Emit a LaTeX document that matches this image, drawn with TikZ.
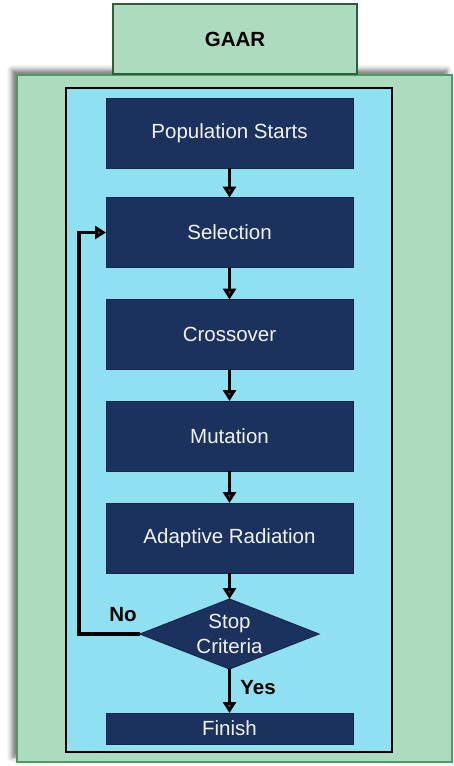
\documentclass[tikz,border=0pt]{standalone}
\usepackage{fontspec}
\setmainfont{Liberation Sans}
\usetikzlibrary{shapes.geometric,arrows.meta,shadows.blur}
\definecolor{gfill}{HTML}{ADDBBE}
\definecolor{gdark}{HTML}{2E5E3E}
\definecolor{gborder}{HTML}{4E9A63}
\definecolor{cyanfill}{HTML}{8FE0F0}
\definecolor{navy}{HTML}{1B325E}
\definecolor{navyb}{HTML}{142647}
\definecolor{txtw}{HTML}{F2F2F2}
\tikzset{
  stepbox/.style={draw=navyb, line width=1pt, fill=navy, text=txtw,
    minimum width=247pt, minimum height=70pt, inner sep=0pt, outer sep=0pt,
    font=\fontsize{20.5}{24}\selectfont},
  decision/.style={diamond, draw=navyb, line width=1pt, fill=navy, text=txtw,
    minimum width=179pt, minimum height=70pt, inner sep=0pt, outer sep=0pt,
    shape aspect=2.56, align=center, font=\fontsize{20.5}{25}\selectfont},
  flow/.style={line width=3.2pt, -{Triangle[width=13pt,length=11pt]}},
  lbl/.style={font=\bfseries\fontsize{20.5}{24}\selectfont, text=black, inner sep=0pt}
}
\begin{document}
\begin{tikzpicture}[x=1pt,y=-1pt]
\useasboundingbox (0,0) rectangle (453,766);
% outer green panel with shadow
\path[fill=gfill, draw=gborder, line width=2pt,
  blur shadow={shadow xshift=-5pt, shadow yshift=5pt, shadow blur radius=5pt, shadow opacity=55}]
  (17,75) rectangle (452,762);
% title box
\node[draw=gdark, line width=2.5pt, fill=gfill, minimum width=244pt, minimum height=70pt,
  inner sep=0pt, font=\bfseries\fontsize{20.5}{24}\selectfont] (title) at (235,39) {GAAR};
% inner cyan panel
\path[fill=cyanfill, draw=black, line width=2.5pt] (66,88) rectangle (392,752);
% steps
\node[stepbox] (pop) at (229.5,133) {Population Starts};
\node[stepbox] (sel) at (229.5,232.5) {Selection};
\node[stepbox] (cross) at (229.5,334.5) {Crossover};
\node[stepbox] (mut) at (229.5,436) {Mutation};
\node[stepbox] (adapt) at (229.5,538) {Adaptive Radiation};
\node[decision] (stop) at (229.5,634) {Stop\\Criteria};
\node[stepbox, minimum height=31pt] (fin) at (229.5,728.5) {Finish};
% connectors
\draw[flow] (pop) -- (sel);
\draw[flow] (sel) -- (cross);
\draw[flow] (cross) -- (mut);
\draw[flow] (mut) -- (adapt);
\draw[flow] (adapt) -- (stop);
\draw[flow] (stop) -- (fin);
\coordinate (fbk) at (79,634);
\draw[line width=3.2pt, line join=miter, -{Triangle[width=13pt,length=11pt]}]
  (stop.west) -- (fbk) |- (sel.west);
% labels
\node[lbl] (no) at (123,615) {No};
\node[lbl] (yes) at (258,688) {Yes};
\end{tikzpicture}
\end{document}
